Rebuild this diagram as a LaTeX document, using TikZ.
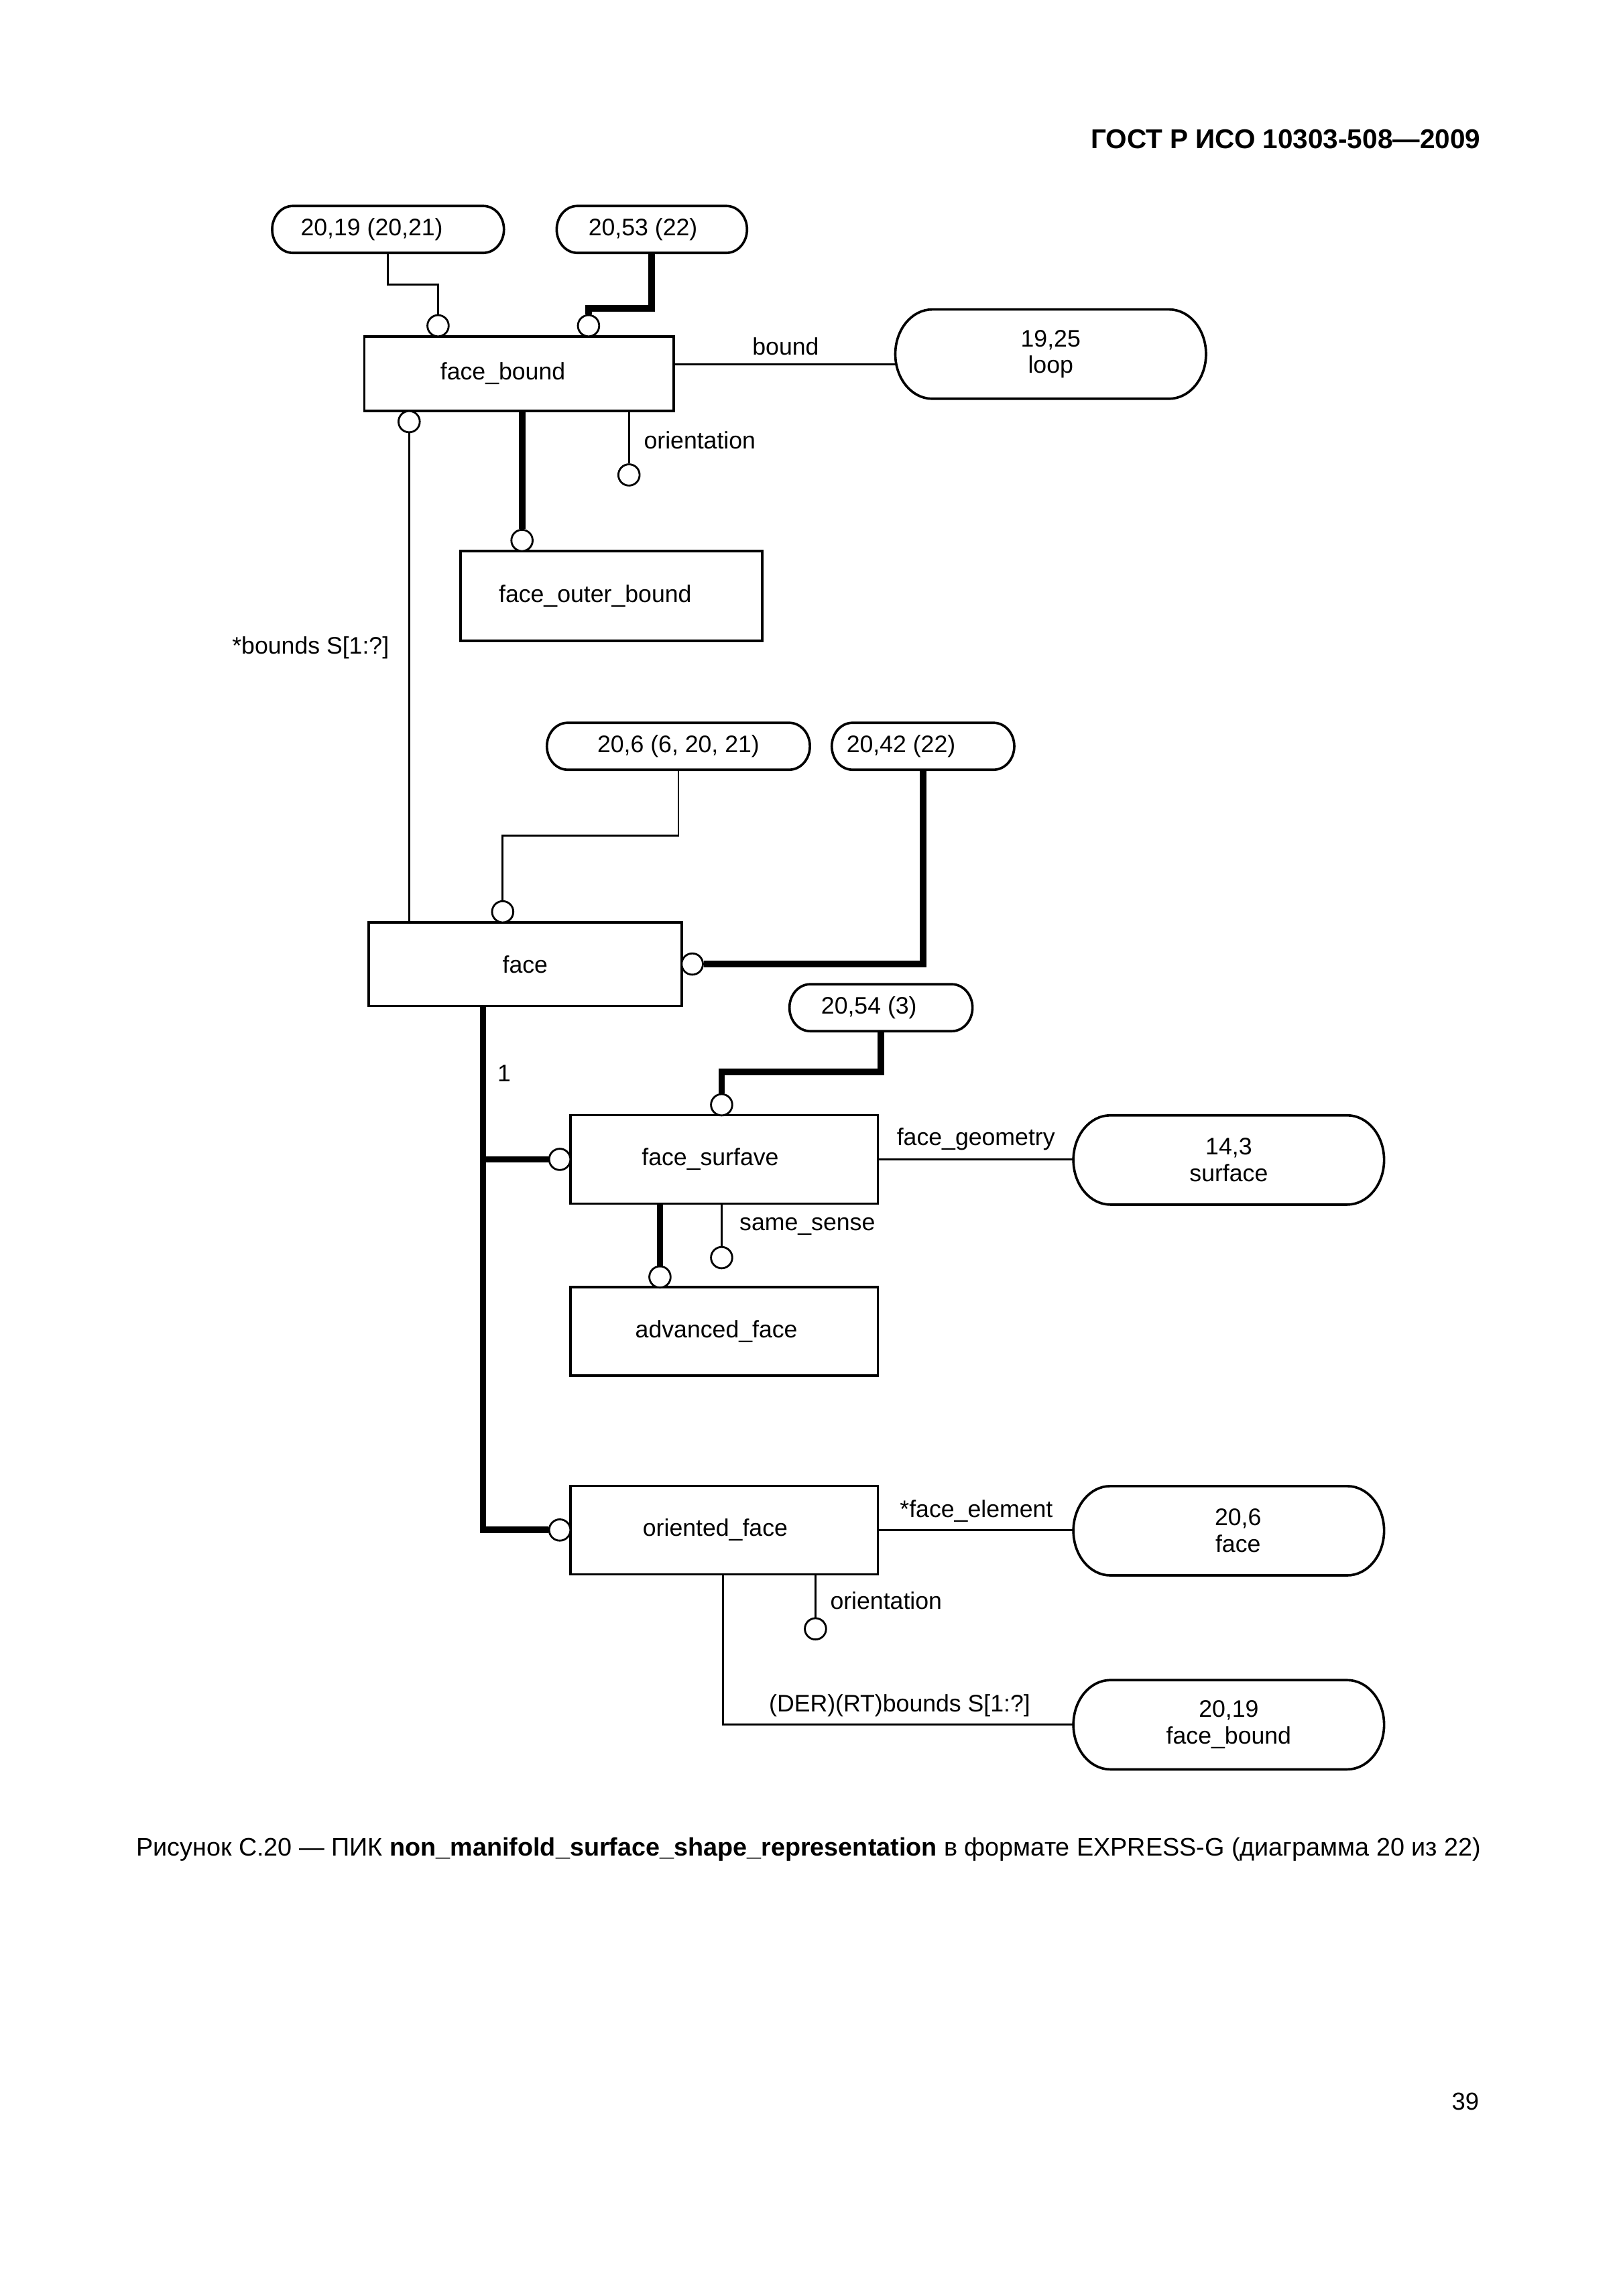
\documentclass[tikz,border=0pt]{standalone}
\usepackage{fontspec}
\setmainfont{Liberation Sans}
\newcommand\linewd{.7pt}
\newcommand\boxwd{.9pt}
\newcommand\heavywd{2.4pt}
\newcommand\ringsize{2.75mm}
\newcommand\nudge[1]{\hspace*{#1}}
% outline of a reference node: flat top and bottom, half ellipses at the ends
\newcommand\pillframe[3]{\draw[line width=\boxwd] ([xshift=#2]#1.north west) -- ([xshift=-#2]#1.north east)
  arc[start angle=90,end angle=-90,x radius=#2,y radius=#3] -- ([xshift=#2]#1.south west)
  arc[start angle=270,end angle=90,x radius=#2,y radius=#3] -- cycle;}
\tikzstyle{graph}   = [line width=\linewd]
\tikzstyle{heavy}   = [line width=\heavywd]
\tikzstyle{entity}  = [draw, line width=\boxwd, inner sep=0pt, minimum width=39.79mm, minimum height=11.45mm]
\tikzstyle{pageref} = [inner sep=0pt, outer sep=0pt, minimum height=6.07mm]
\tikzstyle{typeref} = [inner sep=0pt, outer sep=0pt, align=center, minimum width=40.2mm, minimum height=11.55mm]
\tikzstyle{ring}    = [draw, circle, fill=white, line width=\linewd, inner sep=0pt, minimum size=\ringsize]
\tikzstyle{lbl}     = [inner sep=0pt]

\begin{document}
\begin{tikzpicture}[graph,x=.19091mm,y=-.19091mm,every node/.style={font=\fontsize{8.8}{9.8}\selectfont}]
  \useasboundingbox[fill=white] (0,0) rectangle (1100,1556.2);
  \node[lbl,anchor=base east,font=\fontsize{10}{12}\selectfont\bfseries] (header) at (1004,100.7) {ГОСТ Р ИСО 10303-508—2009};
  % entities
  \node[entity,minimum width=40.06mm,minimum height=9.66mm] (fbound) at (351.8,253.3) {face\_bound\nudge{4.2mm}};
  \node[entity,minimum width=39mm,minimum height=11.63mm] (fouter) at (414.4,404) {face\_outer\_bound\nudge{4.2mm}};
  \node[entity,minimum width=40.5mm,minimum height=10.81mm] (face) at (355.9,653.5) {face};
  \node[entity] (fsurf) at (490.8,785.8) {face\_surfave\nudge{3.6mm}};
  \node[entity] (advface) at (490.8,902.4) {advanced\_face\nudge{2mm}};
  \node[entity] (oface) at (490.8,1037) {oriented\_face\nudge{2.3mm}};
  % page references
  \node[pageref,minimum width=29.99mm] (p2019) at (263,155.5) {20,19 (20,21)\nudge{4.2mm}};
  \node[pageref,minimum width=24.63mm] (p2053) at (441.8,155.5) {20,53 (22)\nudge{2.3mm}};
  \node[pageref,minimum width=34.03mm] (p206) at (459.8,505.8) {20,6 (6, 20, 21)};
  \node[pageref,minimum width=23.61mm] (p2042) at (625.6,505.8) {20,42 (22)\nudge{5.7mm}};
  \node[pageref,minimum width=23.68mm] (p2054) at (597.1,683) {20,54 (3)\nudge{3.1mm}};
  \foreach \p in {p2019,p2053,p206,p2042,p2054} {\pillframe{\p}{2.67mm}{3.035mm}}
  % type references
  \node[typeref] (loop) at (712.1,240) {19,25\\loop};
  \node[typeref] (surface) at (832.8,786.2) {14,3\\surface};
  \node[typeref] (facetype) at (832.8,1037.5) {\nudge{2.4mm}20,6\\\nudge{2.4mm}face};
  \node[typeref] (fbtype) at (832.8,1169) {20,19\\face\_bound};
  \foreach \p in {loop,surface,facetype,fbtype} {\pillframe{\p}{4.77mm}{5.775mm}}
  % rings
  \node[ring] (rA) at (296.9,220.8) {};
  \node[ring] (rB) at (398.9,220.8) {};
  \node[ring] (rC) at (277.3,285.8) {};
  \node[ring] (rD) at (353.8,366.3) {};
  \node[ring] (rE) at (426.3,321.9) {};
  \node[ring] (rF) at (340.7,618) {};
  \node[ring] (rG) at (469.2,653.4) {};
  \node[ring] (rH) at (489.1,748.8) {};
  \node[ring] (rI) at (379.4,785.8) {};
  \node[ring] (rJ) at (379.4,1037) {};
  \node[ring] (rK) at (489.1,852.4) {};
  \node[ring] (rL) at (447.3,865.5) {};
  \node[ring] (rM) at (552.7,1104) {};
  \coordinate (trunk) at (327.4,1037);
  \coordinate (derfoot) at (489.9,1169);
  % thin relations
  \draw (p2019.south) -- ++(0,21.6) -| (rA.north);
  \draw ([yshift=-1.3mm]loop.west) -- ([yshift=-1.3mm]loop.west -| fbound.east);
  \draw (rC.south) -- (rC.south |- face.north);
  \draw (fbound.south -| rE) -- (rE.north);
  \draw (p206.south) -- ++(0,44.7) -| (rF.north);
  \draw (fsurf.east) -- (fsurf.east -| surface.west);
  \draw (fsurf.south -| rK) -- (rK.north);
  \draw (oface.east) -- (oface.east -| facetype.west);
  \draw (oface.south -| rM) -- (rM.north);
  \draw (oface.south -| derfoot) -- (derfoot) -- (fbtype.west);
  % thick relations
  \begin{scope}[heavy]
    \draw (p2053.south) -- ++(0,37.6) -| (rB.north);
    \draw (fbound.south -| rD) -- (rD.north);
    \draw (p2042.south) |- (rG.east);
    \draw (p2054.south) -- ++(0,27.5) -| (rH.north);
    \draw (face.south -| trunk) -- (trunk) -- (rJ.west);
    \draw (trunk |- rI) -- (rI.west);
    \draw (fsurf.south -| rL) -- (rL.north);
  \end{scope}
  % labels
  \node[lbl,anchor=base] (boundlbl) at (532.5,240.8) {bound};
  \node[lbl,anchor=base west] (orilbl) at (435.8,304.4) {orientation};
  \node[lbl,anchor=base east] (boundslbl) at (264.3,443.3) {*bounds S[1:?]};
  \node[lbl,anchor=base west] (onelbl) at (336.5,733) {1};
  \node[lbl,anchor=base west] (geomlbl) at (607.2,776.4) {face\_geometry};
  \node[lbl,anchor=base west] (senselbl) at (500.6,833.8) {same\_sense};
  \node[lbl,anchor=base west] (elemlbl) at (609.3,1028.3) {*face\_element};
  \node[lbl,anchor=base west] (orilblb) at (562.1,1090.5) {orientation};
  \node[lbl,anchor=base west] (derlbl) at (520.6,1160.1) {(DER)(RT)bounds S[1:?]};
  % caption and page number
  \node[lbl,anchor=base west,font=\fontsize{9.32}{11}\selectfont] (caption) at (91.7,1258)
    {Рисунок С.20 — ПИК \textbf{non\_manifold\_surface\_shape\_representation} в формате EXPRESS-G (диаграмма 20 из 22)};
  \node[lbl,anchor=base east,font=\fontsize{9}{11}\selectfont] (pagenum) at (1003,1430) {39};
\end{tikzpicture}
\end{document}
